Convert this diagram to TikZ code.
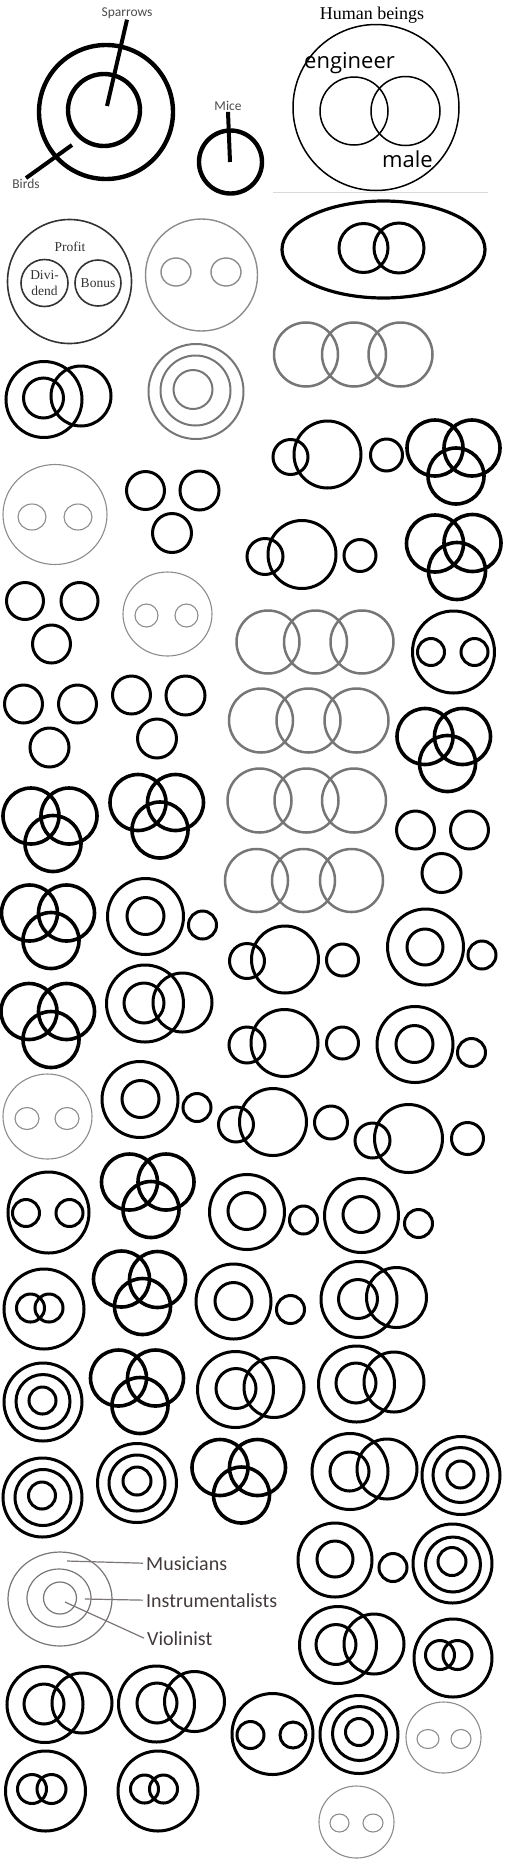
\documentclass[tikz,border=0pt]{standalone}
\usepackage{fontspec}
\usepackage{tikz}
\usetikzlibrary{positioning}
\newfontfamily\calib{Carlito}
\newfontfamily\osans{Open Sans}
\newfontfamily\tms{Liberation Serif}
\definecolor{mygrey}{RGB}{118,118,118}
\definecolor{myfaint}{RGB}{140,140,140}
\definecolor{mylbl}{RGB}{66,58,58}
\tikzset{
  birdring/.style={draw=black, line width=4.4pt},
  heavy/.style={draw=black, line width=3.6pt},
  ring/.style={draw=black, line width=3.0pt},
  greyring/.style={draw=mygrey, line width=2.5pt},
  concgrey/.style={draw=mygrey, line width=2.0pt},
  faintring/.style={draw=myfaint, line width=1.1pt},
  profring/.style={draw=black!80, line width=1.6pt},
  humring/.style={draw=black, line width=1.5pt},
  lblline/.style={draw=mylbl!70, line width=1.2pt},
  smalllbl/.style={font=\calib\fontsize{13.5}{14}\selectfont, color=black!70, inner sep=1pt},
  biglbl/.style={font=\calib\fontsize{20}{22}\selectfont, color=mylbl, inner sep=0pt, anchor=base west}
}
\begin{document}
\begin{tikzpicture}[x=1pt, y=-1pt]
  \useasboundingbox (0,0) rectangle (504,1861);

  % Birds and sparrows, mice
  \draw[birdring] (106,112) circle (67);
  \draw[birdring] (104,110) circle (36);
  \draw[birdring] (230.5,162) circle (31.5);
  \node[smalllbl] (spr) at (127,13) {Sparrows};
  \node[smalllbl] (brd) at (26,184) {Birds};
  \node[smalllbl] (mic) at (228,106) {Mice};
  \coordinate (sprin) at (107,106);
  \coordinate (brdin) at (72,145);
  \coordinate (micin) at (230,162);
  \draw[birdring, line width=4pt] (sprin) -- (spr.south);
  \draw[birdring, line width=4pt] (brdin) -- (brd.north);
  \draw[birdring, line width=4pt] (micin) -- (mic.south);

  % Human beings
  \draw[humring] (376,107.5) circle (83);
  \draw[humring] (354,111) circle (34);
  \draw[humring] (405.5,111) circle (34.5);
  \node[font=\tms\fontsize{18}{20}\selectfont] (hum) at (372,15) {Human beings};
  \node[font=\osans\fontsize{22}{24}\selectfont, anchor=base west, inner sep=0pt] (eng) at (304,68) {engineer};
  \node[font=\osans\fontsize{22}{24}\selectfont, anchor=base west, inner sep=0pt] (mal) at (382,167) {male};
  \coordinate (rulel) at (273,192);
  \coordinate (ruler) at (488,192);
  \draw[black!15, line width=1pt] (rulel) -- (ruler);

  % Profit
  \draw[profring] (69.5,281.5) circle (62);
  \draw[profring] (44.5,283) circle (23.5);
  \draw[profring] (98,283) circle (23);
  \node[font=\tms\fontsize{13.5}{15}\selectfont, color=black!80] (prf) at (70,247) {Profit};
  \node[font=\tms\fontsize{13.5}{16}\selectfont, color=black!80, align=center] (div) at (44.5,283) {Divi-\\dend};
  \node[font=\tms\fontsize{13.5}{15}\selectfont, color=black!80] (bon) at (98,283) {Bonus};

  % Row 2
  \draw[faintring, line width=1.4pt] (201.5,275) circle (56);
  \draw[faintring, line width=1.4pt] (176,272) ellipse [x radius=15, y radius=14];
  \draw[faintring, line width=1.4pt] (226,272) ellipse [x radius=15, y radius=14];
  \draw[ring, line width=3.2pt] (383.5,249.5) ellipse [x radius=101.5, y radius=48.5];
  \draw[ring] (363.5,248) circle (24.5);
  \draw[ring] (399,248) circle (25);
  \draw[greyring] (306,354.5) circle (32);
  \draw[greyring] (354,354.5) circle (32);
  \draw[greyring] (400.5,354.5) circle (32);

  % Row 3
  \draw[ring] (44,399.5) circle (38);
  \draw[ring] (43.5,398) circle (20);
  \draw[ring] (81,396) circle (30);
  \draw[concgrey] (196,391.5) circle (47.5);
  \draw[concgrey] (195.5,390.5) circle (35);
  \draw[concgrey] (193,389.5) circle (19.5);
  \draw[ring] (290.5,457) circle (17.5);
  \draw[ring] (327.5,454.5) circle (33.5);
  \draw[ring] (386.5,455) circle (16);
  \draw[heavy] (435,448) circle (28);
  \draw[heavy] (472,448) circle (28);
  \draw[heavy] (456,476) circle (28);

  % Row 4
  \draw[faintring] (55,514.5) ellipse [x radius=52, y radius=50];
  \draw[faintring] (32,517) ellipse [x radius=14, y radius=13];
  \draw[faintring] (78,517) ellipse [x radius=14, y radius=13];
  \draw[ring] (145.5,490.5) circle (19);
  \draw[ring] (199.5,490.5) circle (19.5);
  \draw[ring] (172,533) circle (19.5);
  \draw[ring] (265,556.5) circle (18);
  \draw[ring] (302,554.5) circle (34);
  \draw[ring] (360,555.5) circle (16);
  \draw[heavy] (435,543.5) circle (28.5);
  \draw[heavy] (472.5,543) circle (28.5);
  \draw[heavy] (457,571) circle (28.5);

  % Row 5
  \draw[ring] (25,601) circle (18.5);
  \draw[ring] (79.5,601) circle (18.5);
  \draw[ring] (51.5,644) circle (19);
  \draw[faintring] (167.5,614) ellipse [x radius=44.5, y radius=42];
  \draw[faintring] (146.5,615.5) circle (11.5);
  \draw[faintring] (186.5,615.5) circle (11.5);
  \draw[greyring] (268,642) circle (31.5);
  \draw[greyring] (315.5,642) circle (31.5);
  \draw[greyring] (362,642) circle (31.5);
  \draw[ring] (453.5,652) circle (41);
  \draw[ring] (431,652) circle (13.5);
  \draw[ring] (474.5,652) circle (13.5);

  % Row 6
  \draw[ring] (23.5,704) circle (19);
  \draw[ring] (77.5,704) circle (19);
  \draw[ring] (49.5,747.5) circle (19.5);
  \draw[ring] (131.5,695) circle (19);
  \draw[ring] (185.5,695.5) circle (19.5);
  \draw[ring] (157,738.5) circle (19.5);
  \draw[greyring] (261,720.5) circle (32);
  \draw[greyring] (308.5,720.5) circle (32);
  \draw[greyring] (356.5,720.5) circle (32);
  \draw[heavy] (425,736.5) circle (28);
  \draw[heavy] (462.5,736.5) circle (28);
  \draw[heavy] (447.5,763.5) circle (28);

  % Row 7
  \draw[heavy] (31,816) circle (28);
  \draw[heavy] (69,816) circle (28);
  \draw[heavy] (53,843.5) circle (28);
  \draw[heavy] (138,802.5) circle (28);
  \draw[heavy] (175.5,802.5) circle (28);
  \draw[heavy] (160,830) circle (28);
  \draw[greyring] (259.5,800.5) circle (32);
  \draw[greyring] (306.5,800.5) circle (32);
  \draw[greyring] (354,800.5) circle (32);
  \draw[ring] (415.5,830) circle (19);
  \draw[ring] (469.5,830) circle (19);
  \draw[ring] (441.5,873) circle (19.5);

  % Row 8
  \draw[greyring] (256.5,880.5) circle (31.5);
  \draw[greyring] (303.5,880.5) circle (31.5);
  \draw[greyring] (351.5,880.5) circle (31.5);
  \draw[heavy] (29.5,913) circle (28);
  \draw[heavy] (66.5,913) circle (28);
  \draw[heavy] (51,940.5) circle (28);
  \draw[ring] (145.5,916.5) circle (38);
  \draw[ring] (145.5,916) circle (18.5);
  \draw[ring] (202.5,925) circle (14);
  \draw[ring] (247,961) circle (17.5);
  \draw[ring] (285,959.5) circle (33.5);
  \draw[ring] (342.5,960) circle (16);
  \draw[ring] (425.5,947) circle (38);
  \draw[ring] (425,947) circle (18);
  \draw[ring] (482,955) circle (14);

  % Row 9
  \draw[heavy] (29,1011.5) circle (28);
  \draw[heavy] (66.5,1011.5) circle (28);
  \draw[heavy] (51,1039.5) circle (28);
  \draw[ring] (145,1003.5) circle (38.5);
  \draw[ring] (144,1003) circle (20);
  \draw[ring] (182.5,1002.5) circle (29.5);
  \draw[ring] (247,1045) circle (18);
  \draw[ring] (284.5,1043) circle (33.5);
  \draw[ring] (342.5,1043) circle (16);
  \draw[ring] (415,1044.5) circle (38);
  \draw[ring] (414.5,1044) circle (18.5);
  \draw[ring] (471.5,1052.5) circle (14);

  % Row 10
  \draw[faintring] (47.5,1116.5) ellipse [x radius=44.5, y radius=42.5];
  \draw[faintring] (27,1118.5) ellipse [x radius=12, y radius=11];
  \draw[faintring] (67,1118.5) ellipse [x radius=12, y radius=11];
  \draw[ring] (140,1099.5) circle (38);
  \draw[ring] (140.5,1099) circle (18.5);
  \draw[ring] (197,1107.5) circle (14);
  \draw[ring] (236,1124.5) circle (17.5);
  \draw[ring] (273,1122) circle (33.5);
  \draw[ring] (331,1122.5) circle (16.5);
  \draw[ring] (372.5,1140.5) circle (17.5);
  \draw[ring] (408.5,1138.5) circle (34);
  \draw[ring] (467.5,1138.5) circle (16);

  % Row 11
  \draw[ring] (48.5,1212.5) circle (40.5);
  \draw[ring] (26,1213) circle (13.5);
  \draw[ring] (69.5,1213) circle (13.5);
  \draw[heavy] (129.5,1182) circle (28);
  \draw[heavy] (166,1182) circle (28);
  \draw[heavy] (151,1209.5) circle (28);
  \draw[ring] (247,1212) circle (37.5);
  \draw[ring] (246.5,1211) circle (18.5);
  \draw[ring] (303.5,1220) circle (14);
  \draw[ring] (361.5,1215.5) circle (37);
  \draw[ring] (361,1214.5) circle (18);
  \draw[ring] (418.5,1223.5) circle (14);

  % Row 12
  \draw[ring] (44,1309) circle (40);
  \draw[ring] (30.5,1308) circle (14);
  \draw[ring] (49,1308) circle (14);
  \draw[heavy] (121.5,1279) circle (28);
  \draw[heavy] (157.5,1279.5) circle (28);
  \draw[heavy] (142.5,1306.5) circle (28);
  \draw[ring] (233.5,1301.5) circle (37.5);
  \draw[ring] (233.5,1301) circle (18.5);
  \draw[ring] (290.5,1309.5) circle (14);
  \draw[ring] (359,1299.5) circle (38);
  \draw[ring] (358,1299) circle (19.5);
  \draw[ring] (396.5,1297.5) circle (30);

  % Row 13
  \draw[ring] (43,1402) circle (39);
  \draw[ring] (43,1401.5) circle (27);
  \draw[ring] (42.5,1400.5) circle (13.5);
  \draw[heavy] (118.5,1378) circle (28);
  \draw[heavy] (155.5,1378) circle (28);
  \draw[heavy] (140,1405.5) circle (28);
  \draw[ring] (235.5,1389.5) circle (38);
  \draw[ring] (236,1388.5) circle (20);
  \draw[ring] (274,1387.5) circle (30);
  \draw[ring] (356.5,1384) circle (38);
  \draw[ring] (356,1383) circle (20);
  \draw[ring] (394,1382) circle (30);

  % Row 14
  \draw[ring] (42.5,1497.5) circle (39.5);
  \draw[ring] (43,1497.5) circle (28);
  \draw[ring] (42,1495.5) circle (13.5);
  \draw[ring] (137,1483) circle (39.5);
  \draw[ring] (137,1483) circle (28);
  \draw[ring] (137,1481) circle (14);
  \draw[heavy] (220,1467.5) circle (28);
  \draw[heavy] (257.5,1467.5) circle (28);
  \draw[heavy] (241.5,1495) circle (28);
  \draw[ring] (350,1471.5) circle (38);
  \draw[ring] (349.5,1471.5) circle (19.5);
  \draw[ring] (387,1469) circle (30);
  \draw[ring] (461,1475.5) circle (39);
  \draw[ring] (460.5,1475) circle (27.5);
  \draw[ring] (460.5,1474.5) circle (13.5);

  % Musicians
  \draw[faintring, draw=mygrey, line width=1.2pt] (60,1599) ellipse [x radius=52, y radius=47];
  \draw[faintring, draw=mygrey, line width=1.2pt] (59,1598) ellipse [x radius=32, y radius=29];
  \draw[faintring, draw=mygrey, line width=1.2pt] (60,1598) ellipse [x radius=16.5, y radius=16];
  \node[biglbl] (mus) at (146,1570) {Musicians};
  \node[biglbl] (ins) at (146,1607) {Instrumentalists};
  \node[biglbl] (vio) at (147,1645) {Violinist};
  \coordinate (musin) at (67,1561);
  \coordinate (insin) at (85,1599);
  \coordinate (vioin) at (65,1602);
  \draw[lblline] (musin) -- ([xshift=-3pt]mus.west);
  \draw[lblline] (insin) -- ([xshift=-3pt]ins.west);
  \draw[lblline] (vioin) -- ([xshift=-3pt]vio.west);

  \draw[ring] (335,1560) circle (37);
  \draw[ring] (335,1559) circle (18);
  \draw[ring] (393,1567.5) circle (14);
  \draw[ring] (452.5,1563.5) circle (39.5);
  \draw[ring] (453,1564.5) circle (27.5);
  \draw[ring] (452,1561.5) circle (14);

  % Row 15
  \draw[ring] (338,1645) circle (38.5);
  \draw[ring] (336,1644.5) circle (20);
  \draw[ring] (374,1644) circle (30);
  \draw[ring] (453,1658) circle (39);
  \draw[ring] (440,1655) circle (14.5);
  \draw[ring] (457.5,1655) circle (14.5);

  % Row 16
  \draw[ring] (45,1704.5) circle (38);
  \draw[ring] (44,1704) circle (20);
  \draw[ring] (82,1703) circle (30);
  \draw[ring] (156.5,1704) circle (38);
  \draw[ring] (157,1703) circle (20);
  \draw[ring] (194.5,1701.5) circle (30);
  \draw[ring] (272.5,1734) circle (40.5);
  \draw[ring] (250.5,1735) circle (13.5);
  \draw[ring] (293,1735) circle (13);
  \draw[ring] (359,1734.5) circle (39);
  \draw[ring] (359.5,1733.5) circle (27);
  \draw[ring] (359,1732) circle (13.5);
  \draw[faintring] (443.5,1737.5) ellipse [x radius=37.5, y radius=35.5];
  \draw[faintring] (428,1739) ellipse [x radius=11, y radius=9.5];
  \draw[faintring] (461,1739) ellipse [x radius=10, y radius=9.5];

  % Row 17
  \draw[ring] (45.5,1791) circle (40);
  \draw[ring] (32,1789) circle (14.5);
  \draw[ring] (51.5,1789) circle (14.5);
  \draw[ring] (158,1791) circle (40);
  \draw[ring] (144.5,1789) circle (14);
  \draw[ring] (163.5,1789) circle (14);
  \draw[faintring] (356.5,1822) ellipse [x radius=37.5, y radius=36];
  \draw[faintring] (339.5,1823) ellipse [x radius=9.5, y radius=9];
  \draw[faintring] (373,1823) ellipse [x radius=10, y radius=9];
\end{tikzpicture}
\end{document}
